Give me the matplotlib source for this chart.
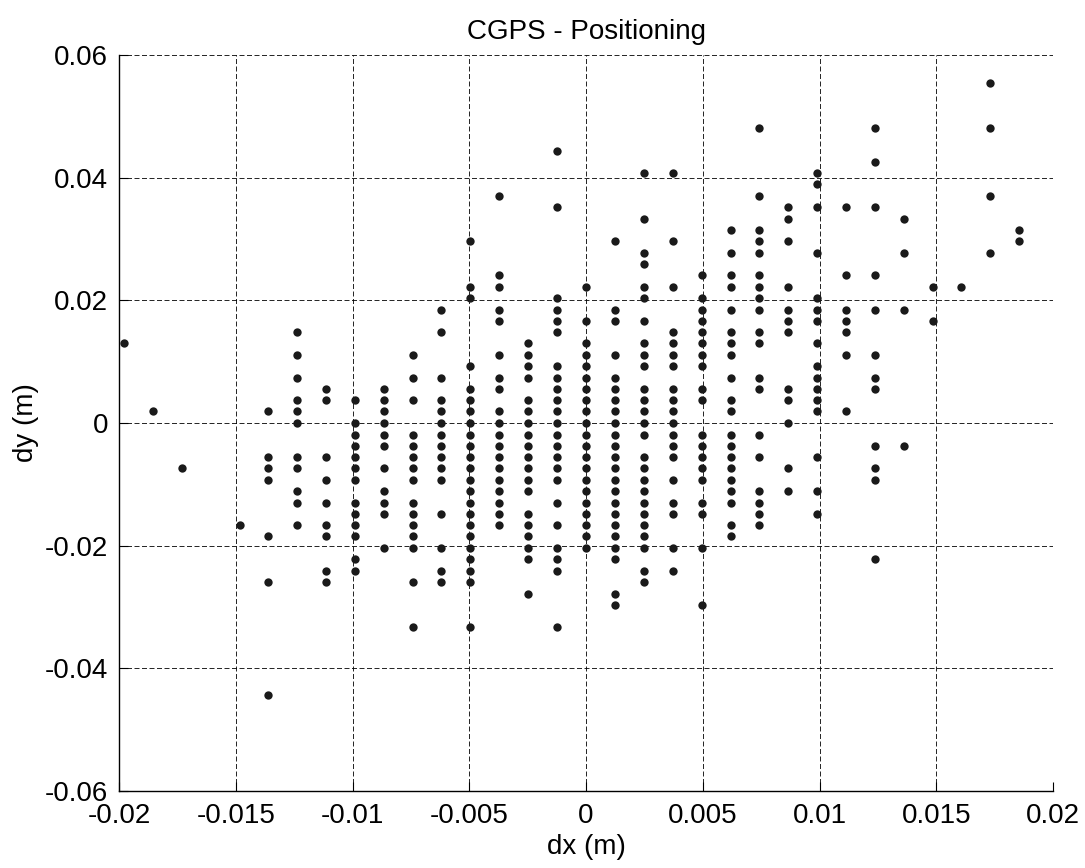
import matplotlib
matplotlib.use("Agg")
import matplotlib.pyplot as plt

plt.rcParams['font.family'] = ['Liberation Sans', 'DejaVu Sans']
plt.rcParams['axes.unicode_minus'] = False

# column positions (m) of the dx values
dx_cols = [-0.01979, -0.01856, -0.01732, -0.01484, -0.01361, -0.01237, -0.01113,
           -0.00990, -0.00866, -0.00742, -0.00619, -0.00495, -0.00371, -0.00247,
           -0.00124, 0.0, 0.00124, 0.00247, 0.00371, 0.00495, 0.00619, 0.00742,
           0.00866, 0.00990, 0.01113, 0.01237, 0.01361, 0.01484, 0.01608, 0.01732,
           0.01856]

# dy values (m) found in each column
dy_cols = [
    [0.0130],
    [0.0019],
    [-0.0074],
    [-0.0167],
    [0.0019, -0.0056, -0.0074, -0.0093, -0.0185, -0.0259, -0.0444],
    [0.0148, 0.0111, 0.0074, 0.0037, 0.0019, 0.0, -0.0056, -0.0074, -0.0111,
     -0.0130, -0.0167],
    [0.0056, 0.0037, -0.0056, -0.0093, -0.0130, -0.0167, -0.0185, -0.0241, -0.0259],
    [0.0037, 0.0, -0.0019, -0.0037, -0.0056, -0.0074, -0.0093, -0.0130, -0.0148,
     -0.0167, -0.0185, -0.0222, -0.0241],
    [0.0056, 0.0037, 0.0019, 0.0, -0.0019, -0.0037, -0.0074, -0.0111, -0.0130,
     -0.0148, -0.0204],
    [0.0111, 0.0074, 0.0037, -0.0019, -0.0037, -0.0056, -0.0074, -0.0093, -0.0130,
     -0.0148, -0.0167, -0.0185, -0.0204, -0.0259, -0.0333],
    [0.0185, 0.0148, 0.0074, 0.0037, 0.0019, 0.0, -0.0019, -0.0037, -0.0056,
     -0.0074, -0.0093, -0.0148, -0.0204, -0.0241, -0.0259],
    [0.0296, 0.0222, 0.0204, 0.0093, 0.0056, 0.0037, 0.0019, 0.0, -0.0019, -0.0037,
     -0.0056, -0.0074, -0.0093, -0.0111, -0.0130, -0.0148, -0.0167, -0.0185,
     -0.0204, -0.0222, -0.0241, -0.0259, -0.0333],
    [0.0370, 0.0241, 0.0222, 0.0185, 0.0167, 0.0111, 0.0074, 0.0056, 0.0019, 0.0,
     -0.0019, -0.0037, -0.0056, -0.0074, -0.0093, -0.0111, -0.0130, -0.0148, -0.0167],
    [0.0130, 0.0111, 0.0093, 0.0074, 0.0037, 0.0019, 0.0, -0.0019, -0.0037, -0.0056,
     -0.0074, -0.0093, -0.0111, -0.0148, -0.0167, -0.0185, -0.0204, -0.0222, -0.0278],
    [0.0444, 0.0352, 0.0204, 0.0185, 0.0167, 0.0148, 0.0093, 0.0074, 0.0056, 0.0037,
     0.0019, 0.0, -0.0019, -0.0037, -0.0056, -0.0074, -0.0093, -0.0130, -0.0167,
     -0.0204, -0.0222, -0.0241, -0.0333],
    [0.0222, 0.0167, 0.0130, 0.0111, 0.0093, 0.0074, 0.0056, 0.0037, 0.0019, 0.0,
     -0.0019, -0.0037, -0.0056, -0.0074, -0.0093, -0.0111, -0.0130, -0.0148, -0.0167,
     -0.0185, -0.0204],
    [0.0296, 0.0185, 0.0167, 0.0111, 0.0074, 0.0056, 0.0037, 0.0019, 0.0, -0.0019,
     -0.0037, -0.0056, -0.0074, -0.0093, -0.0111, -0.0130, -0.0148, -0.0167, -0.0185,
     -0.0204, -0.0222, -0.0278, -0.0296],
    [0.0407, 0.0333, 0.0278, 0.0259, 0.0222, 0.0204, 0.0167, 0.0130, 0.0111, 0.0093,
     0.0056, 0.0037, 0.0019, 0.0, -0.0019, -0.0056, -0.0074, -0.0093, -0.0111,
     -0.0130, -0.0148, -0.0167, -0.0185, -0.0204, -0.0241, -0.0259],
    [0.0407, 0.0296, 0.0222, 0.0148, 0.0130, 0.0111, 0.0093, 0.0056, 0.0037, 0.0019,
     0.0, -0.0019, -0.0037, -0.0056, -0.0093, -0.0130, -0.0148, -0.0204, -0.0241],
    [0.0241, 0.0204, 0.0185, 0.0167, 0.0148, 0.0130, 0.0111, 0.0093, 0.0056, 0.0037,
     -0.0019, -0.0037, -0.0056, -0.0074, -0.0093, -0.0130, -0.0148, -0.0204, -0.0296],
    [0.0315, 0.0278, 0.0241, 0.0222, 0.0185, 0.0148, 0.0130, 0.0111, 0.0074, 0.0037,
     0.0019, -0.0019, -0.0037, -0.0056, -0.0074, -0.0093, -0.0111, -0.0130, -0.0167,
     -0.0185],
    [0.0481, 0.0370, 0.0315, 0.0296, 0.0278, 0.0241, 0.0222, 0.0204, 0.0185, 0.0148,
     0.0130, 0.0074, 0.0056, -0.0019, -0.0056, -0.0111, -0.0130, -0.0148, -0.0167],
    [0.0352, 0.0333, 0.0296, 0.0222, 0.0185, 0.0167, 0.0148, 0.0056, 0.0037, 0.0,
     -0.0074, -0.0111],
    [0.0407, 0.0389, 0.0352, 0.0278, 0.0204, 0.0185, 0.0167, 0.0130, 0.0093, 0.0074,
     0.0056, 0.0037, 0.0019, -0.0056, -0.0111, -0.0148],
    [0.0352, 0.0241, 0.0185, 0.0167, 0.0148, 0.0111, 0.0019],
    [0.0481, 0.0426, 0.0352, 0.0241, 0.0185, 0.0111, 0.0074, 0.0056, -0.0037,
     -0.0074, -0.0093, -0.0222],
    [0.0333, 0.0278, 0.0185, -0.0037],
    [0.0222, 0.0167],
    [0.0222],
    [0.0555, 0.0481, 0.0370, 0.0278],
    [0.0315, 0.0296],
]

xticks = [-0.02, -0.015, -0.01, -0.005, 0, 0.005, 0.01, 0.015, 0.02]
xtick_labels = ['-0.02', '-0.015', '-0.01', '-0.005', '0', '0.005', '0.01', '0.015', '0.02']
yticks = [-0.06, -0.04, -0.02, 0, 0.02, 0.04, 0.06]
ytick_labels = ['-0.06', '-0.04', '-0.02', '0', '0.02', '0.04', '0.06']

fig = plt.figure(figsize=(10.85, 8.68), dpi=100)
ax = fig.add_axes([0.1097, 0.0887, 0.8608, 0.8479])

for x, ys in zip(dx_cols, dy_cols):
    ax.plot([x] * len(ys), ys, 'o', color='#1a1a1a', markersize=6,
            markeredgewidth=0, zorder=3)

ax.set_xlim(-0.02, 0.02)
ax.set_ylim(-0.06, 0.06)
ax.set_xticks(xticks)
ax.set_xticklabels(xtick_labels)
ax.set_yticks(yticks)
ax.set_yticklabels(ytick_labels)
ax.tick_params(direction='in', length=6.5, labelsize=20)
ax.tick_params(axis='x', pad=8.5)
ax.tick_params(axis='y', pad=8)

ax.grid(True, color='k', linestyle=(0, (6, 3)), linewidth=0.6)
ax.spines['top'].set_visible(False)
ax.spines['right'].set_visible(False)
ax.spines['left'].set_linewidth(1.0)
ax.spines['bottom'].set_linewidth(1.0)

ax.set_title('CGPS - Positioning', fontsize=20, pad=11.5)
ax.set_xlabel('dx (m)', fontsize=20, labelpad=4)
ax.set_ylabel('dy (m)', fontsize=20, labelpad=4)

fig.savefig('out.png', dpi=100)
